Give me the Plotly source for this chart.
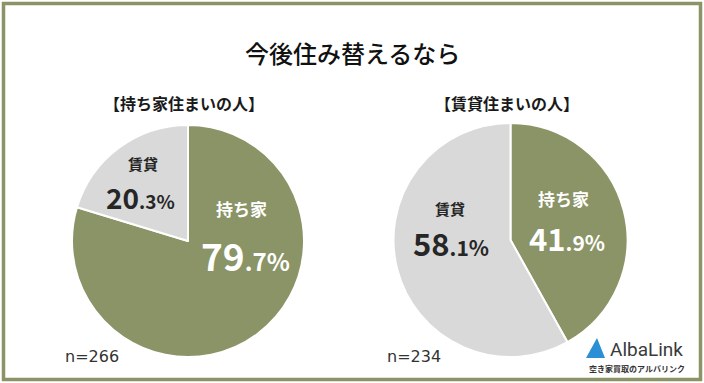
import plotly.graph_objects as go

title = "今後住み替えるなら"
groups = ["【持ち家住まいの人】", "【賃貸住まいの人】"]
categories = ["持ち家", "賃貸"]
owner_values = [79.7, 20.3]
renter_values = [41.9, 58.1]
sample_sizes = ["n=266", "n=234"]

GREEN = "#8a9466"
GRAY = "#d9d9d9"
FONT = "Noto Sans CJK JP"

fig = go.Figure()
domains = [
    dict(x=[72/704, 304/704], y=[1-357/383, 1-125/383]),
    dict(x=[393/704, 628/704], y=[1-357/383, 1-123/383]),
]
for vals, dom in zip([owner_values, renter_values], domains):
    fig.add_trace(go.Pie(
        labels=categories, values=vals, sort=False, direction="clockwise",
        rotation=0, marker=dict(colors=[GREEN, GRAY], line=dict(color="white", width=2)),
        textinfo="none", hoverinfo="label+percent", showlegend=False, domain=dom,
    ))

def pct(v, size_big, size_small):
    s = f"{v:.1f}"
    ip, dp = s.split(".")
    return f"<b><span style='font-size:{size_big}px'>{ip}</span><span style='font-size:{size_small}px'>.{dp}%</span></b>"

ann = []
ann.append(dict(text=title, x=352, y=52, font=dict(size=24, color="#111111", family=FONT, weight=500)))
ann.append(dict(text=f"<b>{groups[0]}</b>", x=184, y=103, font=dict(size=16, color="#1a1a1a", family=FONT)))
ann.append(dict(text=f"<b>{groups[1]}</b>", x=507, y=103, font=dict(size=16, color="#1a1a1a", family=FONT)))
# left pie labels
ann.append(dict(text=f"<b>{categories[1]}</b>", x=143, y=164, font=dict(size=15, color="#262626", family=FONT)))
ann.append(dict(text=pct(owner_values[1], 28, 19), x=140, y=197, font=dict(color="#262626", family=FONT)))
ann.append(dict(text=f"<b>{categories[0]}</b>", x=241, y=209, font=dict(size=17, color="white", family=FONT)))
ann.append(dict(text=pct(owner_values[0], 37, 24), x=245, y=255, font=dict(color="white", family=FONT)))
# right pie labels
ann.append(dict(text=f"<b>{categories[0]}</b>", x=563, y=198, font=dict(size=17, color="white", family=FONT)))
ann.append(dict(text=pct(renter_values[0], 31, 21), x=567, y=237, font=dict(color="white", family=FONT)))
ann.append(dict(text=f"<b>{categories[1]}</b>", x=450, y=208, font=dict(size=15, color="#262626", family=FONT)))
ann.append(dict(text=pct(renter_values[1], 31, 21), x=451, y=243, font=dict(color="#262626", family=FONT)))
# n
ann.append(dict(text=sample_sizes[0], x=92, y=356, font=dict(size=16, color="#333333", family="DejaVu Sans")))
ann.append(dict(text=sample_sizes[1], x=414, y=356, font=dict(size=16, color="#333333", family="DejaVu Sans")))
# logo
ann.append(dict(text="AlbaLink", x=646, y=349, font=dict(size=19, color="#3a3a3a", family="Roboto")))
ann.append(dict(text="<b>空き家買取のアルバリンク</b>", x=637, y=368, font=dict(size=8, color="#333333", family=FONT)))

for a in ann:
    a.update(xref="paper", yref="paper", showarrow=False, xanchor="center", yanchor="middle")
    a["x"] = a["x"] / 704
    a["y"] = 1 - a["y"] / 383
    fig.add_annotation(**a)

# border
fig.add_shape(type="rect", xref="paper", yref="paper", x0=3.5/704, x1=1-3.5/704, y0=3.5/383, y1=1-3.5/383,
              line=dict(color=GREEN, width=3.5))
# logo triangle
fig.add_shape(type="path", xref="paper", yref="paper",
              path=f"M {586/704} {1-358/383} L {597/704} {1-338/383} L {605/704} {1-358/383} Z",
              fillcolor="#2a8fd4", line=dict(width=0))

fig.update_layout(width=704, height=383, margin=dict(l=0, r=0, t=0, b=0),
                  paper_bgcolor="white", plot_bgcolor="white")
fig.write_html("out.html", config={"displayModeBar": False},
               post_script="document.body.style.margin='0';document.body.style.overflow='hidden';")
